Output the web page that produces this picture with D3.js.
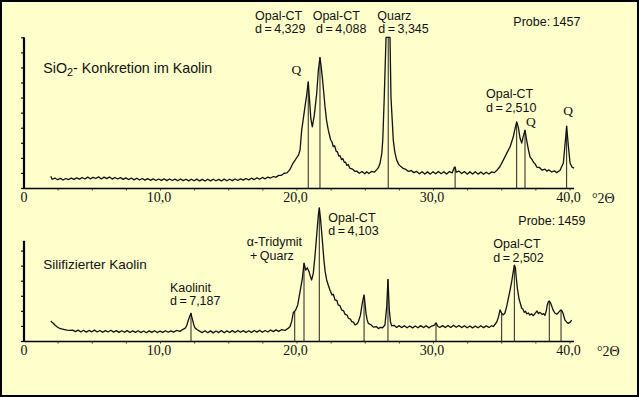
<!DOCTYPE html>
<html><head><meta charset="utf-8">
<script src="https://cdn.jsdelivr.net/npm/d3@7"></script>
<style>
html,body{margin:0;padding:0;background:#FFFFCC;}
svg{display:block;}
.lbl{font-family:"Liberation Sans",Arial,sans-serif;font-size:12.5px;fill:#111;word-spacing:-1px;}
.ser{font-family:"Liberation Serif","Times New Roman",serif;fill:#111;}
</style></head><body>
<script>
// ---------- DATA ----------
const xTickValues = [0, 10, 20, 30, 40];
const xTickLabels = ["0", "10,0", "20,0", "30,0", "40,0"];
const xMinorTicks = [2.5, 5, 7.5, 10, 12.5, 15, 17.5, 20, 22.5, 25, 27.5, 30, 32.5, 35, 37.5, 40];
const axisUnit = "°2Θ";

// Probe 1457 (SiO2-Konkretion): [°2θ, intensity in y-tick units]
const scan1457 = [[2.0,.78],[2.1,.58],[2.3,.66],[2.5,.55],[2.7,.64],[2.9,.53],[3.1,.63],[3.3,.56],[3.5,.66],[3.7,.57],[3.9,.67],[4.1,.59],[4.3,.70],[4.5,.60],[4.7,.72],[4.9,.61],[5.1,.71],[5.3,.63],[5.5,.74],[5.7,.60],[5.9,.72],[6.1,.62],[6.3,.73],[6.5,.59],[6.7,.70],[6.9,.60],[7.1,.69],[7.3,.57],[7.5,.67],[7.7,.56],[7.9,.66],[8.1,.54],[8.3,.65],[8.5,.53],[8.7,.63],[8.9,.52],[9.1,.62],[9.3,.51],[9.5,.61],[9.7,.50],[9.9,.60],[10.1,.51],[10.3,.61],[10.5,.49],[10.7,.60],[10.9,.50],[11.1,.59],[11.3,.48],[11.5,.60],[11.7,.49],[11.9,.58],[12.1,.47],[12.3,.58],[12.5,.48],[12.7,.59],[12.9,.47],[13.1,.57],[13.3,.46],[13.5,.58],[13.7,.47],[13.9,.58],[14.1,.48],[14.3,.57],[14.5,.47],[14.7,.59],[14.9,.48],[15.1,.58],[15.3,.49],[15.5,.60],[15.7,.50],[15.9,.61],[16.1,.52],[16.3,.63],[16.5,.54],[16.7,.65],[16.9,.56],[17.1,.67],[17.3,.58],[17.5,.70],[17.7,.61],[17.9,.72],[18.1,.66],[18.3,.76],[18.5,.72],[18.7,.84],[18.9,.84],[19.1,.98],[19.3,1.0],[19.5,1.2],[19.74,1.64],[19.9,1.85],[20.0,1.99],[20.15,2.2],[20.26,2.52],[20.38,3.84],[20.5,4.6],[20.62,5.38],[20.75,6.2],[20.86,7.04],[20.95,5.9],[21.05,4.6],[21.16,4.06],[21.3,4.8],[21.48,6.27],[21.6,7.81],[21.72,8.66],[21.8,8.1],[21.89,7.37],[22.0,6.3],[22.09,5.38],[22.2,4.5],[22.33,3.84],[22.5,3.2],[22.6,3.05],[22.7,2.74],[22.8,2.8],[22.9,2.45],[23.0,2.4],[23.1,2.12],[23.19,2.15],[23.3,1.88],[23.4,1.95],[23.5,1.7],[23.6,1.72],[23.68,1.5],[23.8,1.55],[23.9,1.32],[24.1,1.26],[24.3,1.1],[24.41,1.12],[24.6,0.98],[24.8,1.1],[25.0,0.95],[25.14,1.08],[25.3,0.96],[25.5,1.1],[25.7,1.05],[25.88,1.22],[26.0,1.35],[26.12,1.64],[26.25,2.3],[26.32,3.18],[26.43,6.05],[26.56,10],[26.85,10],[26.92,6.05],[27.09,3.18],[27.2,2.4],[27.34,1.85],[27.5,1.55],[27.65,1.42],[27.82,1.3],[28.0,1.24],[28.2,1.1],[28.4,1.16],[28.6,1.02],[28.8,1.1],[29.0,0.94],[29.2,1.08],[29.4,0.93],[29.6,1.07],[29.8,0.92],[30.0,1.08],[30.2,0.94],[30.4,1.1],[30.6,0.95],[30.8,1.08],[31.0,0.93],[31.2,1.09],[31.4,1.0],[31.55,1.35],[31.62,1.39],[31.7,1.05],[31.9,1.12],[32.1,0.96],[32.3,1.09],[32.5,0.92],[32.7,1.07],[32.9,0.93],[33.1,1.08],[33.3,0.92],[33.5,1.06],[33.7,0.91],[33.9,1.05],[34.1,0.93],[34.3,1.07],[34.5,1.02],[34.7,1.2],[34.9,1.41],[35.15,1.85],[35.4,2.3],[35.64,2.72],[35.88,3.38],[36.0,3.9],[36.13,4.39],[36.25,4.04],[36.38,3.3],[36.5,2.98],[36.6,3.38],[36.74,3.84],[36.86,3.18],[37.0,2.5],[37.11,2.05],[37.25,1.9],[37.35,1.72],[37.48,1.6],[37.6,1.39],[37.8,1.36],[38.0,1.18],[38.2,1.25],[38.33,1.12],[38.5,1.2],[38.7,1.06],[38.9,1.14],[39.06,1.02],[39.3,1.16],[39.55,1.66],[39.67,2.85],[39.79,4.11],[39.91,2.85],[40.04,1.66],[40.18,1.39],[40.33,1.32]];
const peaks1457 = [[20.86,7.04],[21.72,8.66],[26.72,10],[31.62,1.39],[36.13,4.39],[36.74,3.84],[39.79,4.11]];

// Probe 1459 (Silifizierter Kaolin)
const scan1459 = [[2.0,1.33],[2.08,1.25],[2.16,1.19],[2.3,1.06],[2.45,0.95],[2.6,0.86],[2.8,0.8],[3.0,0.76],[3.2,0.72],[3.4,0.70],[3.6,0.72],[3.8,0.62],[4.0,0.72],[4.2,0.60],[4.4,0.71],[4.6,0.59],[4.8,0.70],[5.0,0.61],[5.2,0.72],[5.4,0.60],[5.6,0.70],[5.8,0.58],[6.0,0.69],[6.2,0.60],[6.4,0.71],[6.6,0.59],[6.8,0.69],[7.0,0.57],[7.2,0.68],[7.4,0.58],[7.6,0.69],[7.8,0.56],[8.0,0.67],[8.2,0.57],[8.4,0.68],[8.6,0.56],[8.8,0.66],[9.0,0.55],[9.2,0.67],[9.4,0.57],[9.6,0.68],[9.8,0.56],[10.0,0.66],[10.2,0.57],[10.4,0.68],[10.6,0.58],[10.8,0.67],[11.0,0.59],[11.2,0.70],[11.47,0.64],[11.65,0.76],[11.83,0.84],[11.95,1.0],[12.08,1.39],[12.18,1.65],[12.27,1.84],[12.33,1.6],[12.39,1.39],[12.47,1.1],[12.56,0.88],[12.7,0.76],[12.93,0.64],[13.1,0.56],[13.3,0.68],[13.5,0.55],[13.7,0.67],[13.9,0.54],[14.1,0.66],[14.3,0.56],[14.5,0.69],[14.7,0.55],[14.9,0.67],[15.1,0.56],[15.3,0.69],[15.5,0.57],[15.7,0.70],[15.9,0.58],[16.1,0.69],[16.3,0.56],[16.5,0.68],[16.7,0.57],[16.9,0.70],[17.1,0.59],[17.3,0.71],[17.5,0.58],[17.7,0.70],[17.9,0.60],[18.1,0.73],[18.3,0.62],[18.5,0.74],[18.7,0.64],[18.9,0.75],[19.16,0.70],[19.35,0.82],[19.52,0.95],[19.65,1.3],[19.77,1.9],[19.85,1.95],[19.94,2.06],[20.09,2.39],[20.26,3.27],[20.43,4.16],[20.55,5.16],[20.67,4.71],[20.79,4.86],[20.92,4.6],[21.01,4.3],[21.11,4.05],[21.23,4.49],[21.36,5.71],[21.48,7.03],[21.6,8.36],[21.67,8.83],[21.75,8.2],[21.85,7.15],[22.01,5.37],[22.1,4.6],[22.21,4.05],[22.33,3.7],[22.45,3.38],[22.6,3.05],[22.7,3.1],[22.82,2.72],[22.95,2.7],[23.05,2.4],[23.18,2.35],[23.31,2.06],[23.45,2.0],[23.55,1.78],[23.7,1.72],[23.8,1.51],[23.95,1.45],[24.05,1.28],[24.17,1.25],[24.29,1.06],[24.45,1.15],[24.53,1.28],[24.68,1.7],[24.78,2.28],[24.88,2.8],[24.95,3.05],[25.02,2.5],[25.09,1.84],[25.18,1.4],[25.26,1.17],[25.45,1.08],[25.63,0.92],[25.85,0.96],[26.0,0.82],[26.12,0.9],[26.3,0.88],[26.48,1.06],[26.61,2.28],[26.7,4.09],[26.8,2.06],[26.88,1.3],[26.97,1.0],[27.15,1.04],[27.34,0.9],[27.5,1.02],[27.7,0.89],[27.9,1.01],[28.1,0.88],[28.3,1.0],[28.5,0.87],[28.7,1.0],[28.9,0.88],[29.1,1.02],[29.3,0.89],[29.5,1.01],[29.7,0.87],[29.9,0.99],[30.1,1.05],[30.22,1.2],[30.35,0.98],[30.5,0.9],[30.7,1.02],[30.9,0.89],[31.1,1.03],[31.3,0.9],[31.5,1.05],[31.7,0.91],[31.9,1.03],[32.1,0.89],[32.3,1.01],[32.5,0.88],[32.7,1.0],[32.9,0.87],[33.1,0.99],[33.3,0.88],[33.5,1.01],[33.7,0.89],[33.9,1.0],[34.1,0.9],[34.3,1.01],[34.42,0.96],[34.67,1.26],[34.8,1.6],[34.91,2.06],[35.03,1.85],[35.15,1.73],[35.27,1.86],[35.4,2.3],[35.52,2.83],[35.65,3.4],[35.77,3.98],[35.88,4.6],[35.96,5.04],[36.04,4.84],[36.1,4.2],[36.18,3.5],[36.3,2.8],[36.5,2.17],[36.6,2.1],[36.68,1.9],[36.78,1.98],[36.86,1.8],[36.98,1.86],[37.1,1.72],[37.22,1.8],[37.35,1.68],[37.5,1.85],[37.62,1.99],[37.73,1.82],[37.84,1.9],[38.0,1.76],[38.1,1.82],[38.2,1.7],[38.3,2.0],[38.37,2.39],[38.45,2.6],[38.52,2.65],[38.6,2.55],[38.67,2.39],[38.8,2.05],[38.94,1.84],[39.06,1.78],[39.18,1.88],[39.3,2.0],[39.38,2.06],[39.45,1.98],[39.52,1.86],[39.6,1.6],[39.67,1.39],[39.8,1.25],[39.91,1.17],[40.05,1.25],[40.16,1.39]];
const peaks1459 = [[12.27,1.84],[19.87,1.95],[20.55,5.16],[21.67,8.83],[24.95,3.05],[26.7,4.09],[30.22,1.2],[35.03,1.85],[35.96,5.04],[38.52,2.65],[39.38,2.06]];

const topTitle = ["SiO", "2", "- Konkretion im Kaolin"];
const bottomTitle = "Silifizierter Kaolin";
const topProbe = "Probe: 1457";
const bottomProbe = "Probe: 1459";
const topAnnotations = [["Opal-CT","d = 4,329"],["Opal-CT","d = 4,088"],["Quarz","d = 3,345"],["Opal-CT","d = 2,510"]];
const topQ = ["Q","Q","Q"];
const bottomAnnotations = [["α-Tridymit","+ Quarz"],["Kaolinit","d = 7,187"],["Opal-CT","d = 4,103"],["Opal-CT","d = 2,502"]];

// ---------- LAYOUT ----------
const W = 639, H = 397;
const svg = d3.select("body").append("svg").attr("width", W).attr("height", H);
svg.append("rect").attr("x",1).attr("y",1).attr("width",W-2).attr("height",H-2)
  .attr("fill","#FFFFCC").attr("stroke","#000").attr("stroke-width",2);

const x = d3.scaleLinear().domain([0, 40]).range([23.5, 569.5]);
const xEnd = 40.33;

function panel(base, nTicks, scan, peaks, cfg) {
  const y = d3.scaleLinear().domain([0, 10]).range([base, base - 150.7]);
  const g = svg.append("g");
  // y axis
  g.append("g").attr("transform", `translate(${x(0)+0.5},0)`)
    .call(d3.axisLeft(y).tickValues(d3.range(0, nTicks + 1)).tickSize(3).tickFormat("").tickSizeOuter(0))
    .call(a => a.select(".domain").remove())
    .call(a => a.selectAll("line").attr("stroke","#111").attr("stroke-width",1.2));
  g.append("line").attr("x1", x(0)+0.5).attr("x2", x(0)+0.5)
    .attr("y1", y(cfg.yTop)).attr("y2", base + 1).attr("stroke","#000").attr("stroke-width",2.2);
  // x axis
  g.append("line").attr("x1", x(0)).attr("x2", x(xEnd)).attr("y1", base+0.5).attr("y2", base+0.5)
    .attr("stroke","#000").attr("stroke-width",1.6);
  g.append("g").attr("transform", `translate(0,${base+0.5})`)
    .call(d3.axisBottom(x).tickValues(xMinorTicks).tickSize(2).tickFormat(""))
    .call(a => a.select(".domain").remove())
    .call(a => a.selectAll("line").attr("stroke","#333").attr("stroke-width",1));
  g.append("g").attr("transform", `translate(0,${base})`)
    .call(d3.axisBottom(x).tickValues(xTickValues).tickSize(0).tickPadding(4)
      .tickFormat((d,i) => xTickLabels[i]))
    .call(a => a.select(".domain").remove())
    .call(a => a.selectAll("text").attr("class","ser").attr("font-size","14px")
      .style("font-family",'"Liberation Serif",serif').attr("fill","#111").attr("dx", (d,i)=> i ? -1.5 : 0));
  g.append("text").attr("class","ser").attr("x", cfg.unitX).attr("y", base + 15)
    .attr("font-size","14px").text(axisUnit);
  // drop lines
  g.selectAll("line.drop").data(peaks).enter().append("line").attr("class","drop")
    .attr("x1", d => x(d[0])).attr("x2", d => x(d[0]))
    .attr("y1", d => y(d[1])).attr("y2", base + 1)
    .attr("stroke","#222").attr("stroke-width",1);
  // scan
  const line = d3.line().x(d => x(d[0])).y(d => y(d[1]));
  g.append("path").datum(scan).attr("d", line).attr("fill","none")
    .attr("stroke","#111").attr("stroke-width",1.3).attr("stroke-linejoin","round");
  return {g, y};
}

const panelTop = panel(188, 10, scan1457, peaks1457, {yTop: 10, unitX: 592});
const panelBot = panel(341, 6, scan1459, peaks1459, {yTop: 6.65, unitX: 597});

// ---------- TEXT ----------
function two(g, lines, px, py, gap) {
  g.append("text").attr("class","lbl").attr("x", px[0]).attr("y", py).text(lines[0]);
  g.append("text").attr("class","lbl").attr("x", px[1]).attr("y", py + gap).text(lines[1]);
}
const T = svg.append("g");
const ttl = T.append("text").attr("class","lbl").attr("x",43.3).attr("y",72.7)
  .style("font-size","14.5px").style("word-spacing","0px")
  .attr("textLength",169).attr("lengthAdjust","spacingAndGlyphs");
ttl.append("tspan").text(topTitle[0]);
ttl.append("tspan").attr("dy",3).style("font-size","11px").text(topTitle[1]);
ttl.append("tspan").attr("dy",-3).text(topTitle[2]);
T.append("text").attr("class","lbl").attr("x",513.3).attr("y",26).text(topProbe);
two(T, topAnnotations[0], [255,255], 20, 12.5);
two(T, topAnnotations[1], [312.7,316], 20, 12.5);
two(T, topAnnotations[2], [377.3,378.3], 20, 12.5);
two(T, topAnnotations[3], [486,486], 98.3, 13.2);
[[291.5,74],[526,125.5],[563.3,114.5]].forEach((p,i) =>
  T.append("text").attr("class","ser").attr("x",p[0]).attr("y",p[1]).attr("font-size","13.5px").text(topQ[i]));

const B = svg.append("g");
B.append("text").attr("class","lbl").attr("x",43.3).attr("y",269).style("font-size","13.5px").style("word-spacing","0px").text(bottomTitle);
B.append("text").attr("class","lbl").attr("x",518.3).attr("y",225).text(bottomProbe);
two(B, bottomAnnotations[0], [246.7,250], 246, 14);
two(B, bottomAnnotations[1], [170,170], 291.7, 13.3);
two(B, bottomAnnotations[2], [328.3,328.3], 222.3, 12.7);
two(B, bottomAnnotations[3], [493.3,493.3], 248.3, 13.4);
</script>
</body></html>
